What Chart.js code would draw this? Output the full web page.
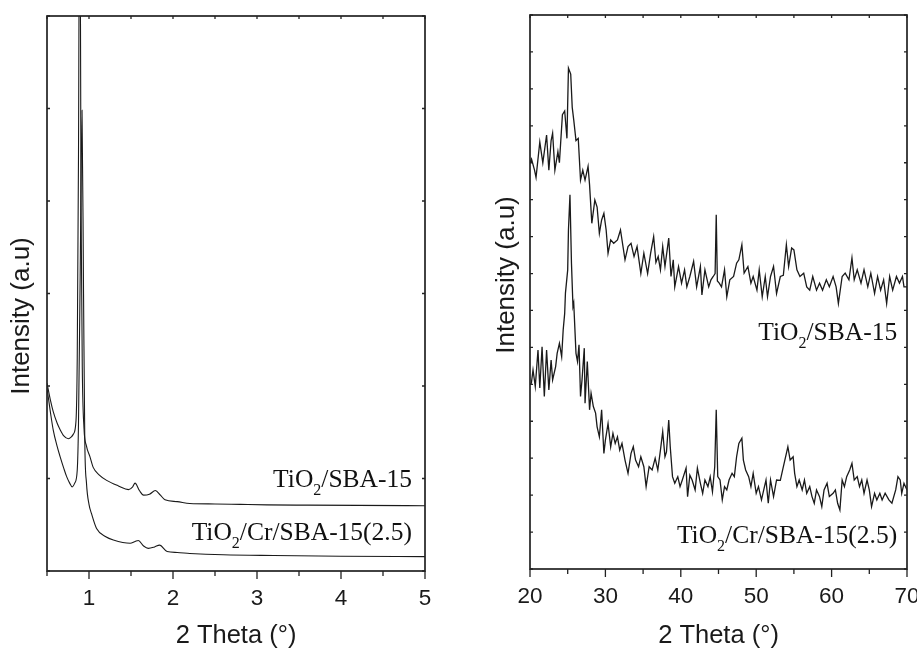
<!DOCTYPE html>
<html>
<head>
<meta charset="utf-8">
<script src="https://cdn.jsdelivr.net/npm/chart.js@4.4.1/dist/chart.umd.min.js"></script>
<style>
  html, body { margin: 0; padding: 0; background: #fff; overflow: hidden; }
  #wrap { position: relative; width: 917px; height: 652px; overflow: hidden; }
  canvas { position: absolute; top: 0; }
</style>
</head>
<body>
<div id="wrap">
  <canvas id="lowAngle" width="470" height="652" style="left:0"></canvas>
  <canvas id="wideAngle" width="470" height="652" style="left:470px"></canvas>
</div>
<script>
// ---- low angle panel (2 theta 0.5 - 5) ----
const lowSbaX = [0.5, 0.54, 0.575, 0.62, 0.655, 0.7, 0.754, 0.79, 0.814, 0.845, 0.86, 0.875, 0.89, 0.905, 0.92, 0.94, 0.97, 1.01, 1.05, 1.12, 1.21, 1.35, 1.47, 1.52, 1.548, 1.6, 1.65, 1.72, 1.79, 1.85, 1.905, 2.05, 2.2, 2.5, 2.8, 3.12, 3.6, 4.2, 5];
const lowSbaY = [2.03, 1.85, 1.72, 1.6, 1.53, 1.46, 1.43, 1.45, 1.48, 1.62, 2.3, 4.5, 8, 4, 2.2, 1.55, 1.35, 1.24, 1.12, 1.04, 0.98, 0.92, 0.88, 0.91, 0.95, 0.87, 0.82, 0.83, 0.87, 0.82, 0.77, 0.75, 0.73, 0.725, 0.72, 0.715, 0.712, 0.709, 0.706];
const lowCrX = [0.5, 0.54, 0.575, 0.62, 0.655, 0.7, 0.734, 0.77, 0.8, 0.83, 0.86, 0.875, 0.895, 0.917, 0.935, 0.95, 0.97, 1.0, 1.03, 1.09, 1.2, 1.29, 1.49, 1.55, 1.587, 1.65, 1.706, 1.78, 1.84, 1.93, 2.05, 2.2, 2.6, 3.2, 4, 5];
const lowCrY = [1.98, 1.72, 1.52, 1.35, 1.24, 1.11, 1.02, 0.95, 0.91, 0.95, 1.09, 1.6, 3.2, 4.98, 3.0, 1.4, 0.95, 0.72, 0.62, 0.46, 0.37, 0.335, 0.3, 0.32, 0.33, 0.27, 0.245, 0.26, 0.28, 0.21, 0.2, 0.19, 0.175, 0.167, 0.16, 0.155];

// ---- wide angle panel (2 theta 20 - 70) ----
const wideSbaX = [20.0, 20.2, 20.6, 20.8, 21.3, 21.7, 22.2, 22.5, 22.8, 23.0, 23.3, 23.7, 23.9, 24.3, 24.6, 24.9, 25.1, 25.4, 25.6, 25.8, 26.1, 26.4, 26.7, 27.0, 27.3, 27.7, 27.9, 28.2, 28.6, 28.9, 29.2, 29.5, 29.8, 30.1, 30.35, 30.7, 31.1, 31.6, 32.0, 32.6, 33.0, 33.4, 33.8, 34.2, 34.7, 35.1, 35.6, 36.0, 36.4, 36.7, 37.0, 37.3, 37.6, 37.9, 38.4, 38.7, 39.0, 39.2, 39.7, 40.1, 40.5, 40.8, 41.2, 41.7, 42.1, 42.6, 42.8, 43.2, 43.7, 44.0, 44.3, 44.55, 44.7, 44.85, 45.1, 45.4, 45.8, 46.1, 46.5, 47.0, 47.4, 47.7, 48.1, 48.4, 48.9, 49.3, 49.6, 50.1, 50.4, 50.8, 51.2, 51.5, 51.9, 52.3, 52.7, 53.2, 53.6, 54.0, 54.3, 54.7, 55.0, 55.4, 55.8, 56.3, 56.7, 57.1, 57.5, 58.0, 58.4, 58.8, 59.3, 59.7, 60.2, 60.6, 60.9, 61.4, 61.8, 62.3, 62.7, 63.0, 63.4, 63.9, 64.3, 64.8, 65.2, 65.7, 66.1, 66.5, 66.9, 67.3, 67.7, 68.1, 68.6, 69.0, 69.4, 69.6, 70.0];
const wideSbaY = [11.0, 11.1, 10.8, 10.6, 11.56, 11.0, 11.75, 10.8, 11.6, 11.8, 10.8, 11.3, 11.0, 12.3, 12.4, 11.66, 13.56, 13.4, 12.5, 12.16, 11.6, 11.66, 10.53, 10.8, 10.53, 10.9, 10.4, 9.36, 9.99, 9.8, 9.09, 9.45, 9.63, 9.18, 8.55, 8.91, 8.82, 8.91, 9.18, 8.37, 8.73, 8.82, 8.46, 8.73, 8.0, 8.55, 8.0, 8.55, 9.0, 8.3, 8.46, 8.1, 8.73, 8.19, 8.96, 7.92, 8.37, 7.64, 8.19, 7.74, 8.1, 7.64, 7.92, 8.33, 7.64, 8.19, 7.42, 8.1, 7.64, 7.83, 7.92, 8.0, 9.59, 7.8, 7.74, 7.64, 8.1, 7.37, 7.83, 7.92, 8.28, 8.37, 8.78, 8.01, 8.19, 7.74, 7.92, 7.55, 8.1, 7.37, 7.92, 7.37, 7.92, 8.19, 7.46, 7.92, 7.95, 8.78, 8.19, 8.69, 8.64, 8.1, 7.92, 8.01, 7.64, 7.55, 7.92, 7.55, 7.74, 7.55, 7.83, 7.64, 7.92, 7.64, 7.19, 7.92, 8.01, 7.83, 8.42, 7.83, 8.1, 7.74, 8.1, 7.64, 8.01, 7.46, 7.92, 7.55, 7.83, 7.19, 7.92, 7.55, 7.92, 7.74, 7.92, 7.64, 7.64];
const wideCrX = [20.0, 20.18, 20.4, 20.7, 21.06, 21.3, 21.6, 21.9, 22.2, 22.5, 22.8, 23.0, 23.4, 23.6, 23.9, 24.2, 24.4, 24.6, 24.7, 25.0, 25.1, 25.3, 25.5, 25.7, 25.8, 26.1, 26.3, 26.5, 26.7, 26.9, 27.2, 27.3, 27.6, 27.9, 28.1, 28.4, 28.7, 28.9, 29.2, 29.5, 29.8, 30.0, 30.35, 30.7, 31.0, 31.3, 31.6, 31.9, 32.2, 32.6, 33.0, 33.4, 33.7, 34.0, 34.4, 34.7, 35.1, 35.4, 35.8, 36.2, 36.6, 36.95, 37.3, 37.6, 37.9, 38.1, 38.4, 38.6, 38.9, 39.2, 39.6, 39.9, 40.2, 40.7, 40.9, 41.2, 41.5, 41.9, 42.2, 42.6, 42.9, 43.2, 43.6, 43.9, 44.2, 44.5, 44.7, 44.9, 45.2, 45.5, 45.8, 46.1, 46.4, 46.8, 47.1, 47.4, 47.7, 48.1, 48.3, 48.6, 49.0, 49.3, 49.6, 50.0, 50.3, 50.7, 51.0, 51.3, 51.6, 51.9, 52.3, 52.7, 53.2, 53.5, 53.8, 54.2, 54.5, 54.9, 55.1, 55.4, 55.7, 56.1, 56.4, 56.7, 57.1, 57.4, 57.7, 58.0, 58.4, 58.7, 59.0, 59.4, 59.7, 60.2, 60.5, 60.8, 61.1, 61.4, 61.7, 62.0, 62.4, 62.7, 63.0, 63.4, 63.7, 64.0, 64.3, 64.7, 65.0, 65.3, 65.7, 66.0, 66.4, 66.7, 67.1, 67.6, 68.0, 68.5, 68.8, 69.1, 69.3, 69.6, 70.0];
const wideCrY = [5.0, 5.03, 5.39, 4.94, 5.93, 4.9, 6.02, 4.67, 5.93, 4.85, 5.66, 5.12, 5.48, 5.84, 6.11, 5.75, 6.47, 6.92, 7.47, 8.1, 9.18, 10.13, 8.28, 7.11, 7.2, 5.84, 5.62, 6.07, 4.67, 5.12, 5.98, 4.49, 5.62, 4.31, 4.76, 4.4, 4.22, 3.85, 3.58, 4.31, 3.13, 3.49, 3.94, 3.31, 3.67, 3.4, 3.58, 3.22, 3.4, 2.95, 2.59, 3.13, 3.31, 2.95, 2.77, 3.04, 2.77, 2.23, 2.77, 2.68, 3.0, 2.68, 3.22, 3.72, 3.04, 3.17, 4.03, 3.31, 2.5, 2.32, 2.5, 2.23, 2.41, 2.73, 1.96, 2.54, 2.41, 2.14, 2.73, 2.32, 2.05, 2.41, 2.23, 2.5, 2.09, 2.77, 4.31, 2.5, 2.41, 1.87, 2.23, 2.14, 2.41, 2.59, 2.5, 3.04, 3.4, 3.54, 2.95, 2.68, 2.5, 2.23, 2.59, 2.05, 2.23, 1.87, 2.14, 2.41, 1.78, 2.41, 1.96, 2.41, 2.4, 2.68, 2.95, 3.31, 2.95, 3.04, 2.59, 2.23, 2.41, 2.14, 2.41, 2.05, 2.23, 1.96, 1.78, 2.14, 1.96, 1.69, 2.14, 2.32, 1.96, 2.05, 2.14, 1.78, 1.6, 2.41, 2.23, 2.5, 2.68, 2.86, 2.41, 2.5, 2.23, 2.41, 2.05, 2.41, 2.14, 1.69, 2.05, 1.87, 2.05, 1.87, 2.05, 1.87, 1.78, 2.14, 2.5, 2.41, 2.05, 2.32, 2.14];

// series labels: TiO + subscript 2 + rest
const labelRest = ['/SBA-15', '/Cr/SBA-15(2.5)'];

const sansFont = "'Liberation Sans', Arial, sans-serif";
const serifFont = "'Liberation Serif', 'Times New Roman', serif";
const ink = '#1a1a1a';

function toPoints(xs, ys) {
  return xs.map((x, i) => ({ x: x, y: ys[i] }));
}

// frame, inward/outward ticks, y title and curve labels
const frameTicks = {
  id: 'frameTicks',
  afterDraw(chart, args, opts) {
    const { ctx, chartArea: a } = chart;
    const xs = chart.scales.x, ys = chart.scales.y;
    ctx.save();
    ctx.strokeStyle = '#222';
    ctx.lineWidth = 1.7;
    ctx.strokeRect(a.left, a.top, a.right - a.left, a.bottom - a.top);
    ctx.lineWidth = 1.3;
    ctx.beginPath();
    xs.ticks.forEach(t => {
      const px = xs.getPixelForValue(t.value);
      const r = t.value / opts.majorStep;
      const major = Math.abs(r - Math.round(r)) < 1e-6;
      ctx.moveTo(px, a.bottom);
      ctx.lineTo(px, a.bottom + (major ? 8 : 5));
      ctx.moveTo(px, a.top);
      ctx.lineTo(px, a.top + 3);
    });
    ys.ticks.forEach(t => {
      const py = ys.getPixelForValue(t.value);
      ctx.moveTo(a.left, py);
      ctx.lineTo(a.left + 3, py);
      ctx.moveTo(a.right, py);
      ctx.lineTo(a.right - 3, py);
    });
    ctx.stroke();

    // y axis title
    ctx.save();
    ctx.translate(opts.titleX, opts.titleY);
    ctx.rotate(-Math.PI / 2);
    ctx.fillStyle = ink;
    ctx.font = '26px ' + sansFont;
    ctx.textAlign = 'center';
    ctx.textBaseline = 'middle';
    ctx.fillText('Intensity (a.u)', 0, 0);
    ctx.restore();

    // curve labels, right aligned, anchored in data units
    ctx.fillStyle = '#111';
    ctx.textBaseline = 'alphabetic';
    ctx.textAlign = 'left';
    opts.labels.forEach((lb, i) => {
      const right = xs.getPixelForValue(lb.x);
      const base = ys.getPixelForValue(lb.y);
      ctx.font = '25.5px ' + serifFont;
      const w1 = ctx.measureText('TiO').width;
      const w3 = ctx.measureText(labelRest[i]).width;
      ctx.font = '16px ' + serifFont;
      const w2 = ctx.measureText('2').width;
      let x0 = right - (w1 + w2 + w3);
      ctx.font = '25.5px ' + serifFont;
      ctx.fillText('TiO', x0, base);
      ctx.font = '16px ' + serifFont;
      ctx.fillText('2', x0 + w1, base + 8);
      ctx.font = '25.5px ' + serifFont;
      ctx.fillText(labelRest[i], x0 + w1 + w2, base);
    });
    ctx.restore();
  }
};

function makeChart(id, cfg) {
  return new Chart(document.getElementById(id), {
    type: 'line',
    data: {
      datasets: cfg.series.map(s => ({
        data: s,
        borderColor: ink,
        borderWidth: cfg.lineWidth,
        pointRadius: 0,
        fill: false,
        tension: cfg.smooth ? 0.4 : 0,
        cubicInterpolationMode: cfg.smooth ? 'monotone' : 'default'
      }))
    },
    options: {
      responsive: false,
      animation: false,
      events: [],
      layout: { padding: { top: cfg.top, right: cfg.right, left: 0, bottom: 0 } },
      plugins: {
        legend: { display: false },
        tooltip: { enabled: false },
        frameTicks: cfg.frame
      },
      scales: {
        x: {
          type: 'linear',
          min: cfg.xMin,
          max: cfg.xMax,
          grid: { display: false, drawTicks: false },
          border: { display: false },
          afterFit: s => { s.height = cfg.xHeight; },
          ticks: {
            stepSize: cfg.xStep,
            autoSkip: false,
            maxRotation: 0,
            padding: 14,
            color: ink,
            font: { family: sansFont, size: 22.5, lineHeight: 1.2 },
            callback: v => {
              const r = v / cfg.frame.majorStep;
              return Math.abs(r - Math.round(r)) < 1e-6 ? String(Math.round(v)) : '';
            }
          },
          title: {
            display: true,
            text: '2 Theta (°)',
            color: ink,
            font: { family: sansFont, size: 25.5, lineHeight: 1.2 },
            padding: { top: 0, bottom: 1 }
          }
        },
        y: {
          min: 0,
          max: cfg.yMax,
          grid: { display: false, drawTicks: false },
          border: { display: false },
          ticks: { display: false, stepSize: 1 },
          afterFit: s => { s.width = cfg.yWidth; }
        }
      }
    },
    plugins: [frameTicks]
  });
}

makeChart('lowAngle', {
  series: [toPoints(lowSbaX, lowSbaY), toPoints(lowCrX, lowCrY)],
  smooth: true, lineWidth: 1.1,
  xMin: 0.5, xMax: 5, xStep: 0.5, yMax: 6,
  top: 16, right: 45, xHeight: 81, yWidth: 47,
  frame: {
    majorStep: 1, titleX: 22, titleY: 316,
    labels: [{ x: 4.845, y: 0.91 }, { x: 4.845, y: 0.335 }]
  }
});

makeChart('wideAngle', {
  series: [toPoints(wideSbaX, wideSbaY), toPoints(wideCrX, wideCrY)],
  smooth: false, lineWidth: 1.3,
  xMin: 20, xMax: 70, xStep: 5, yMax: 15,
  top: 15, right: 33, xHeight: 83, yWidth: 60,
  frame: {
    majorStep: 10, titleX: 37, titleY: 275,
    labels: [{ x: 68.7, y: 6.2 }, { x: 68.7, y: 0.7 }]
  }
});
</script>
</body>
</html>
